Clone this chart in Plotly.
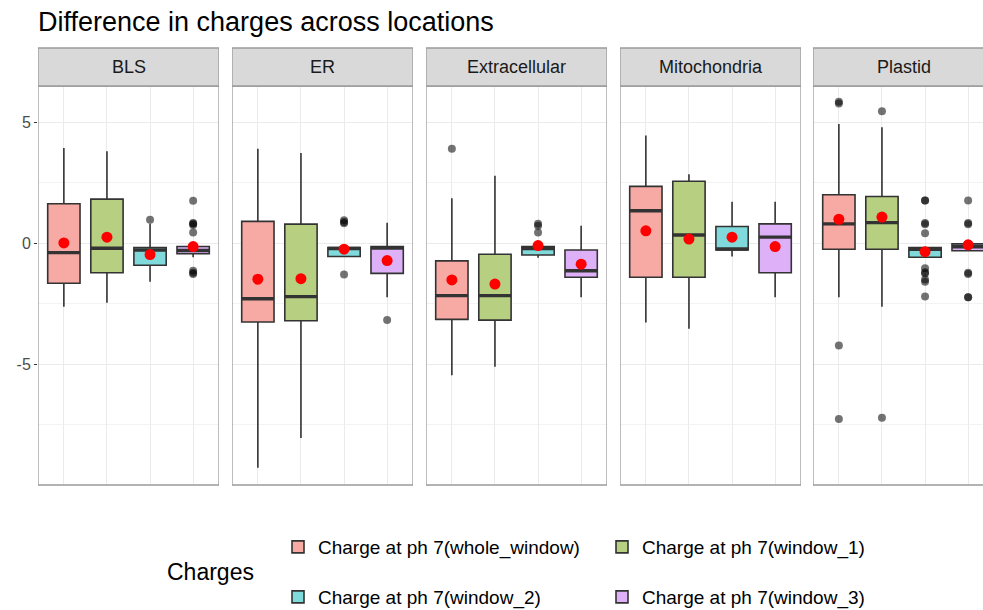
import plotly.graph_objects as go
from plotly.subplots import make_subplots

W, H = 983, 610

locations = ["BLS", "ER", "Extracellular", "Mitochondria", "Plastid"]
charges = [
    "Charge at ph 7(whole_window)",
    "Charge at ph 7(window_1)",
    "Charge at ph 7(window_2)",
    "Charge at ph 7(window_3)",
]

# one row per location, one value per charge series
lower_whisker = [
    [-2.63, -2.46, -1.59, -0.58],
    [-9.29, -8.06, -0.55, -2.24],
    [-5.46, -5.11, -0.60, -2.24],
    [-3.28, -3.54, -0.55, -2.24],
    [-2.24, -2.63, -0.58, -0.31],
]
q1 = [
    [-1.66, -1.22, -0.91, -0.44],
    [-3.26, -3.21, -0.55, -1.25],
    [-3.15, -3.18, -0.49, -1.41],
    [-1.41, -1.41, -0.28, -1.22],
    [-0.25, -0.25, -0.58, -0.31],
]
median = [
    [-0.39, -0.21, -0.28, -0.30],
    [-2.30, -2.21, -0.22, -0.20],
    [-2.17, -2.17, -0.22, -1.14],
    [1.34, 0.34, -0.24, 0.25],
    [0.80, 0.85, -0.25, -0.15],
]
q3 = [
    [1.63, 1.82, -0.18, -0.14],
    [0.90, 0.79, -0.18, -0.14],
    [-0.73, -0.46, -0.14, -0.28],
    [2.35, 2.56, 0.69, 0.80],
    [2.00, 1.93, -0.18, -0.03],
]
upper_whisker = [
    [3.94, 3.80, 0.80, -0.14],
    [3.91, 3.73, -0.18, 0.85],
    [1.86, 2.79, -0.14, 0.72],
    [4.45, 2.85, 1.71, 1.71],
    [4.93, 4.79, -0.18, -0.03],
]
means = [
    [0.01, 0.25, -0.47, -0.14],
    [-1.49, -1.47, -0.25, -0.72],
    [-1.52, -1.69, -0.10, -0.87],
    [0.51, 0.17, 0.25, -0.14],
    [0.99, 1.08, -0.35, -0.07],
]
outliers = [
    [[], [], [0.97], [1.75, 0.83, 0.80, 0.75, 0.44, -1.14, -1.22, -1.27]],
    [[], [], [0.95, 0.88, 0.82, -1.29], [-3.18]],
    [[3.90], [], [0.80, 0.72, 0.44], []],
    [[], [], [], []],
    [
        [5.85, 5.78, -4.23, -7.27],
        [5.46, -7.22],
        [1.77, 1.77, 0.83, 0.78, 0.41, -1.04, -1.20, -1.25, -1.50, -1.59, -2.21],
        [1.77, 0.83, 0.78, -1.22, -1.27, -2.24, -2.24],
    ],
]

FILLS = ["#F7A9A4", "#B6CF80", "#80D9DB", "#DDB0F8"]
LINE = "#333333"
BORDER = "#9A9A9A"
GRID = "#EBEBEB"
FONT = "Liberation Sans, Arial, sans-serif"


def px(x):
    return x / W


def py(y):
    return 1 - y / H


# panel geometry in screen pixels (last panel runs off the right edge)
panel_left = [38, 232, 426, 620, 813]
panel_w = 181
y_top, y_bot = 86, 485
strip_top = 48
x_lo, x_hi = 0.4, 4.6

fig = make_subplots(rows=1, cols=5, shared_yaxes=True)

for i, loc in enumerate(locations):
    col = i + 1
    for j, name in enumerate(charges):
        fig.add_trace(
            go.Box(
                x=[j + 1],
                q1=[q1[i][j]],
                median=[median[i][j]],
                q3=[q3[i][j]],
                lowerfence=[lower_whisker[i][j]],
                upperfence=[upper_whisker[i][j]],
                width=0.75,
                whiskerwidth=0,
                fillcolor=FILLS[j],
                line=dict(color=LINE, width=1.6),
                name=name,
                legendgroup=name,
                showlegend=(i == 0),
                legend="legend" if j < 2 else "legend2",
                boxpoints=False,
                hoverinfo="skip",
            ),
            row=1,
            col=col,
        )
    # thicker median bars like ggplot
    mx, my = [], []
    for j in range(4):
        mx += [j + 1 - 0.375, j + 1 + 0.375, None]
        my += [median[i][j], median[i][j], None]
    fig.add_trace(
        go.Scatter(x=mx, y=my, mode="lines", line=dict(color=LINE, width=3.4),
                   showlegend=False, hoverinfo="skip"),
        row=1, col=col,
    )
    ox, oy = [], []
    for j in range(4):
        ox += [j + 1] * len(outliers[i][j])
        oy += outliers[i][j]
    fig.add_trace(
        go.Scatter(x=ox, y=oy, mode="markers",
                   marker=dict(size=8, color="rgba(0,0,0,0.55)", line=dict(width=0)),
                   showlegend=False),
        row=1, col=col,
    )
    fig.add_trace(
        go.Scatter(x=[1, 2, 3, 4], y=means[i], mode="markers",
                   marker=dict(size=11, color="#FF0000", line=dict(width=0)),
                   showlegend=False),
        row=1, col=col,
    )

for k in range(5):
    left = panel_left[k]
    right = min(left + panel_w, W)
    hi = x_lo + (right - left) / panel_w * (x_hi - x_lo)
    sfx = "" if k == 0 else str(k + 1)
    fig.layout["xaxis" + sfx].update(
        domain=[px(left), px(right)],
        range=[x_lo, hi],
        tickvals=[1, 2, 3, 4],
        showticklabels=False,
        ticks="",
        showgrid=True,
        gridcolor=GRID,
        gridwidth=1,
        zeroline=False,
        showline=False,
    )
    fig.layout["yaxis" + sfx].update(
        domain=[py(y_bot), py(y_top)],
        range=[-10.0, 6.5],
        tickvals=[-5, 0, 5],
        ticktext=["-5", "0", "5"],
        showticklabels=(k == 0),
        ticks="outside" if k == 0 else "",
        ticklen=3,
        tickcolor=LINE,
        tickfont=dict(size=16, color="#4D4D4D"),
        showgrid=True,
        gridcolor=GRID,
        gridwidth=1,
        minor=dict(tickmode="array", tickvals=[-7.5, -2.5, 2.5], showgrid=True,
                   gridcolor="#F3F3F3", gridwidth=0.7, ticks=""),
        zeroline=False,
        showline=False,
    )
    xr = "x" + sfx
    # panel border
    fig.add_shape(type="rect", xref=xr, yref="y" + sfx + " domain",
                  x0=x_lo, x1=x_hi, y0=0, y1=1,
                  line=dict(color=BORDER, width=1.3), layer="above")
    # strip
    fig.add_shape(type="rect", xref=xr, yref="paper",
                  x0=x_lo, x1=x_hi, y0=py(y_top), y1=py(strip_top),
                  fillcolor="#D9D9D9", line=dict(color=BORDER, width=1.3))
    fig.add_annotation(xref=xr, yref="paper", x=(x_lo + x_hi) / 2,
                       y=py((y_top + strip_top) / 2), text=locations[k],
                       showarrow=False, font=dict(size=18, color="#1A1A1A"),
                       xanchor="center", yanchor="middle")

fig.add_annotation(xref="paper", yref="paper", x=px(165), y=py(572),
                   text="Charges", showarrow=False, xanchor="left", yanchor="middle",
                   font=dict(size=23, color="#000000"))

legend_style = dict(
    orientation="h",
    xanchor="left",
    yanchor="middle",
    entrywidth=279,
    entrywidthmode="pixels",
    itemwidth=30,
    font=dict(size=19, color="#000000"),
    bgcolor="rgba(0,0,0,0)",
    borderwidth=0,
)

fig.update_layout(
    width=W,
    height=H,
    paper_bgcolor="white",
    plot_bgcolor="white",
    font=dict(family=FONT, color="#000000"),
    margin=dict(l=0, r=0, t=0, b=0, autoexpand=False),
    title=dict(text="Difference in charges across locations", x=px(38), xanchor="left",
               y=py(22), yanchor="middle", font=dict(size=27, color="#000000")),
    boxmode="overlay",
    legend=dict(x=px(278), y=py(547), **legend_style),
    legend2=dict(x=px(278), y=py(597), **legend_style),
)

# drop the default page margin so the figure fills the window exactly
fig.write_html(
    "out.html",
    config={"displayModeBar": False},
    post_script="document.body.style.margin='0';document.body.style.overflow='hidden';",
)
